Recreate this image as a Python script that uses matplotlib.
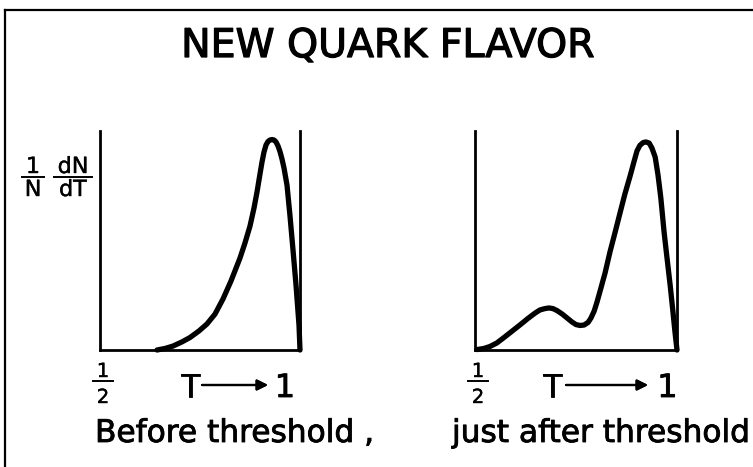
import matplotlib

matplotlib.use("Agg")
import matplotlib.pyplot as plt
import matplotlib.patheffects as pe
from matplotlib.lines import Line2D

W, H = 753, 467

# thrust distribution, before the new flavour threshold
t_before = [0.6425, 0.6625, 0.6825, 0.705, 0.725, 0.7475, 0.7675, 0.7875, 0.8075,
            0.8275, 0.85, 0.8625, 0.875, 0.885, 0.8925, 0.90, 0.905, 0.91, 0.915,
            0.92, 0.925, 0.93, 0.935, 0.94, 0.945, 0.95, 0.955, 0.96, 0.9675,
            0.975, 0.9825, 0.99, 0.9975, 1.0]
dn_before = [0.000, 0.007, 0.018, 0.037, 0.057, 0.087, 0.119, 0.164, 0.233,
             0.315, 0.420, 0.489, 0.566, 0.648, 0.721, 0.804, 0.858, 0.904, 0.936,
             0.952, 0.959, 0.961, 0.959, 0.950, 0.932, 0.906, 0.872, 0.831, 0.753,
             0.612, 0.457, 0.297, 0.114, 0.0]

# thrust distribution, just above threshold (extra low-T bump)
t_after = [0.505, 0.522, 0.537, 0.554, 0.569, 0.589, 0.611, 0.631, 0.649, 0.661,
           0.673, 0.683, 0.693, 0.703, 0.716, 0.728, 0.740, 0.750, 0.760, 0.770,
           0.780, 0.787, 0.795, 0.802, 0.809, 0.822, 0.834, 0.847, 0.859, 0.871,
           0.884, 0.894, 0.901, 0.908, 0.916, 0.923, 0.931, 0.938, 0.946, 0.953,
           0.960, 0.968, 0.975, 0.983, 0.990, 0.995, 1.0]
dn_after = [0.002, 0.007, 0.016, 0.032, 0.053, 0.082, 0.114, 0.144, 0.169, 0.183,
            0.189, 0.192, 0.189, 0.180, 0.164, 0.146, 0.128, 0.116, 0.112, 0.114,
            0.126, 0.146, 0.178, 0.219, 0.265, 0.352, 0.447, 0.539, 0.626, 0.712,
            0.795, 0.863, 0.909, 0.934, 0.947, 0.950, 0.945, 0.922, 0.881, 0.799,
            0.694, 0.539, 0.425, 0.297, 0.174, 0.082, 0.0]

title = "NEW QUARK FLAVOR"
captions = ["Before threshold ,", "just after threshold"]


def stroke(w):
    # thicken glyph outlines a little, like hand lettering
    return [pe.withStroke(linewidth=w, foreground="black")]


def fx(x):
    return x / W


def fy(y):
    return 1 - y / H


def label(x, y, s, size, w, ha="center"):
    fig.text(fx(x), fy(y), s, ha=ha, va="baseline", fontsize=size,
             color="black", path_effects=stroke(w))


fig = plt.figure(figsize=(W / 100, H / 100), dpi=100)
fig.patch.set_facecolor("white")

# frame lines (left and top)
fig.add_artist(Line2D([fx(5), fx(5)], [fy(10), fy(H)], color="black", lw=1.6))
fig.add_artist(Line2D([fx(5), fx(W)], [fy(10), fy(10)], color="black", lw=1.6))

label(387.5, 57, title, 28.4, 0.9)

panels = [
    (100, 300, t_before, dn_before),
    (475, 677, t_after, dn_after),
]
top, bottom = 131, 350

for left, right, t, dn in panels:
    ax = fig.add_axes([fx(left), fy(bottom), (right - left) / W, (bottom - top) / H])
    ax.plot(t, dn, color="black", lw=3.8, solid_capstyle="round",
            solid_joinstyle="round", clip_on=False)
    ax.set_xlim(0.5, 1.0)
    ax.set_ylim(0, 1.0)
    ax.set_xticks([])
    ax.set_yticks([])
    ax.spines["top"].set_visible(False)
    for side in ("left", "right", "bottom"):
        ax.spines[side].set_linewidth(2.0)
    ax.patch.set_alpha(0)

# x axis annotations: 1/2 and T ---> 1
for half_x, t_x, a0, a1, one_x in [(103, 190.5, 202, 268, 285),
                                   (478, 552.5, 566, 648, 667.5)]:
    label(half_x, 377, "1", 14, 0.3)
    fig.add_artist(Line2D([fx(half_x - 10), fx(half_x + 10)], [fy(381), fy(381)],
                          color="black", lw=1.4))
    label(half_x, 403, "2", 14, 0.3)
    label(t_x, 397, "T", 23, 0.6)
    label(one_x, 397, "1", 23, 0.6)
    fig.add_artist(plt.annotate(
        "", xy=(fx(a1), fy(385)), xytext=(fx(a0), fy(385)),
        xycoords="figure fraction", textcoords="figure fraction",
        arrowprops=dict(arrowstyle="-|>", lw=1.6, color="black",
                        mutation_scale=16, shrinkA=0, shrinkB=0)))

label(95, 442, captions[0], 22.5, 0.6, ha="left")
label(452, 442, captions[1], 22.5, 0.6, ha="left")

# y label: (1/N) dN/dT
for cx, num, den, half in [(33, "1", "N", 11), (73, "dN", "dT", 19)]:
    label(cx, 173, num, 16, 0.3)
    fig.add_artist(Line2D([fx(cx - half), fx(cx + half)], [fy(177), fy(177)],
                          color="black", lw=1.4))
    label(cx, 196, den, 16, 0.3)

fig.savefig("out.png", dpi=100)
plt.close(fig)
